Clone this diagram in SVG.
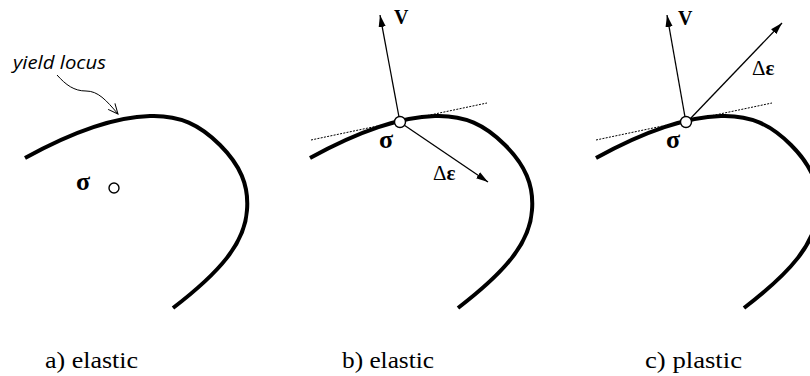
<svg xmlns="http://www.w3.org/2000/svg" width="810" height="376" viewBox="0 0 810 376">
<style>
.locus{fill:none;stroke:#000;stroke-width:4;stroke-linecap:butt}
.tan{fill:none;stroke:#000;stroke-width:1;stroke-dasharray:2 1.3}
.vec{fill:none;stroke:#000;stroke-width:1.3;marker-end:url(#arr)}
.pt{fill:#fff;stroke:#000;stroke-width:1.4}
.sym{font-family:"Liberation Serif","DejaVu Serif",serif;font-weight:bold;fill:#000}
.de{font-family:"Liberation Serif","DejaVu Serif",serif;font-size:21px;fill:#000}
.lab{font-family:"Liberation Serif","DejaVu Serif",serif;font-size:24px;fill:#000}
.note{font-family:"Open Sans","Liberation Sans",sans-serif;font-style:italic;font-size:18px;fill:#000}
</style>
<defs>
<path id="curve" class="locus" d="M25,158 C65,136 110,117 150,116 C180,115 200,125 220,145 C240,165 249,185 247,210 C245,243 220,272 173,308"/>
<marker id="arr" markerUnits="userSpaceOnUse" viewBox="-12 -5 13 10" refX="0" refY="0" markerWidth="13" markerHeight="10" orient="auto">
<path d="M-12,-3.6 L0,0 L-12,3.6 Z" fill="#000"/>
</marker>
<marker id="open" markerUnits="userSpaceOnUse" viewBox="-12 -6 13 12" refX="0" refY="0" markerWidth="13" markerHeight="12" orient="auto">
<path d="M-10,-4.5 L0,0 L-10,4.5" fill="none" stroke="#000" stroke-width="1"/>
</marker>
</defs>

<g id="panel-a">
<use href="#curve"/>
<text class="note" x="13" y="69" textLength="93" lengthAdjust="spacingAndGlyphs">yield locus</text>
<circle class="pt" cx="114" cy="188" r="5"/>
<text class="sym" x="76" y="190" font-size="26">σ</text>
<text class="lab" x="45" y="368" textLength="93" lengthAdjust="spacingAndGlyphs">a) elastic</text>
</g>

<g id="panel-b">
<use href="#curve" transform="translate(285,0)"/>
<text class="sym" x="379" y="148" font-size="26">σ</text>
<text class="sym" x="394" y="24" font-size="20">V</text>
<text class="de" x="433" y="180">Δ<tspan font-weight="bold">ε</tspan></text>
<text class="lab" x="342" y="368" textLength="92" lengthAdjust="spacingAndGlyphs">b) elastic</text>
</g>

<g id="panel-c">
<use href="#curve" transform="translate(571,0)"/>
<text class="sym" x="666" y="148" font-size="26">σ</text>
<text class="sym" x="678" y="25" font-size="20">V</text>
<text class="de" x="752" y="75">Δ<tspan font-weight="bold">ε</tspan></text>
<text class="lab" x="645" y="368" textLength="97" lengthAdjust="spacingAndGlyphs">c) plastic</text>
</g>

<g id="connectors">
<path d="M57,75 C66,85 74,91 86,91 C98,91 106,100 118,114" fill="none" stroke="#000" stroke-width="1" marker-end="url(#open)"/>
<line class="tan" x1="311" y1="140" x2="487" y2="103"/>
<line class="vec" x1="399" y1="117" x2="380" y2="15"/>
<line class="vec" x1="404" y1="125" x2="488" y2="182"/>
<line class="tan" x1="596" y1="140" x2="772" y2="103"/>
<line class="vec" x1="685" y1="117" x2="667" y2="15"/>
<line class="vec" x1="690" y1="119" x2="782" y2="23"/>
</g>

<g id="points">
<circle class="pt" cx="400" cy="122" r="5.5"/>
<circle class="pt" cx="686" cy="122" r="5.5"/>
</g>
</svg>
